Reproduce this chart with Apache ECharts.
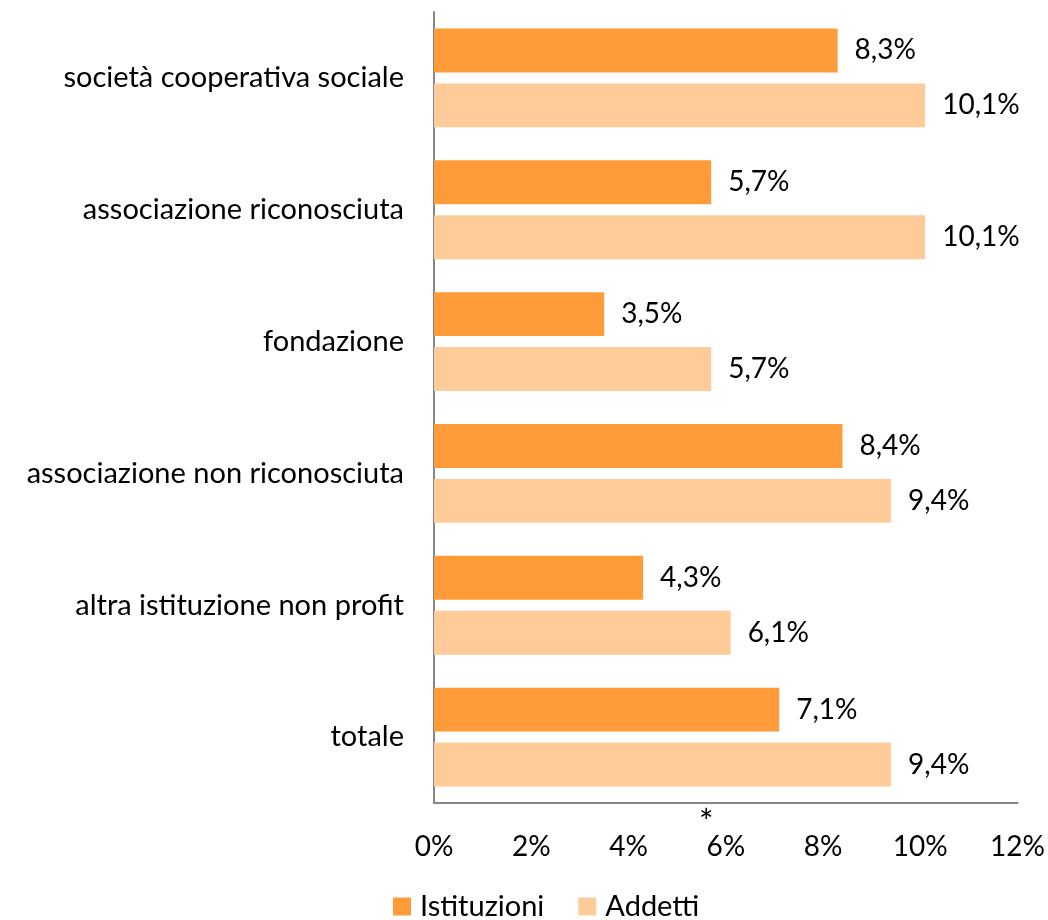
<!DOCTYPE html>
<html><head><meta charset="utf-8">
<script src="https://cdn.jsdelivr.net/npm/echarts@6/dist/echarts.min.js"></script>
<style>html,body{margin:0;padding:0;background:#fff}#c{width:1048px;height:920px}</style>
</head><body><div id="c"></div>
<script>
const categories = ['società cooperativa sociale','associazione riconosciuta','fondazione','associazione non riconosciuta','altra istituzione non profit','totale'];
const istituzioni = [8.3, 5.7, 3.5, 8.4, 4.3, 7.1];
const addetti = [10.1, 10.1, 5.7, 9.4, 6.1, 9.4];
const xTicks = [0, 2, 4, 6, 8, 10, 12];
const FONT = 'Lato';
const chart = echarts.init(document.getElementById('c'));
const fmt = p => p.value.toFixed(1).replace('.', ',') + '%';
chart.setOption({
  animation: false,
  textStyle: {fontFamily: FONT},
  grid: {left: 434, top: 12, right: 30, bottom: 117, containLabel: false},
  legend: {
    bottom: -6, left: 388, itemWidth: 18, itemHeight: 18, itemGap: 34,
    icon: 'rect', textStyle: {fontSize: 29, color: '#000', fontFamily: FONT, padding: [0, 0, 0, 4]},
    data: ['Istituzioni', 'Addetti']
  },
  xAxis: {
    type: 'value', min: xTicks[0], max: xTicks[xTicks.length-1], interval: 2,
    axisLine: {show: true, lineStyle: {color: '#868686', width: 2}},
    axisTick: {show: false}, splitLine: {show: false},
    axisLabel: {fontSize: 28, color: '#000', margin: 30, formatter: v => v + '%', fontFamily: FONT}
  },
  yAxis: {
    type: 'category', inverse: true, data: categories,
    axisLine: {show: true, lineStyle: {color: '#868686', width: 2}},
    axisTick: {show: false},
    axisLabel: {fontSize: 29, color: '#000', margin: 30, fontFamily: FONT}
  },
  graphic: [{type: 'text', left: 699, top: 806, style: {text: '*', fontSize: 34, fill: '#000', fontFamily: FONT}}],
  series: [
    {name: 'Istituzioni', type: 'bar', data: istituzioni, barGap: '25%', barCategoryGap: '25%',
     itemStyle: {color: '#FF9B38'},
     label: {show: true, position: 'right', distance: 17, fontSize: 28, color: '#000', formatter: fmt, fontFamily: FONT}},
    {name: 'Addetti', type: 'bar', data: addetti, barGap: '25%', barCategoryGap: '25%',
     itemStyle: {color: '#FFCB98'},
     label: {show: true, position: 'right', distance: 17, fontSize: 28, color: '#000', formatter: fmt, fontFamily: FONT}}
  ]
});
</script></body></html>
